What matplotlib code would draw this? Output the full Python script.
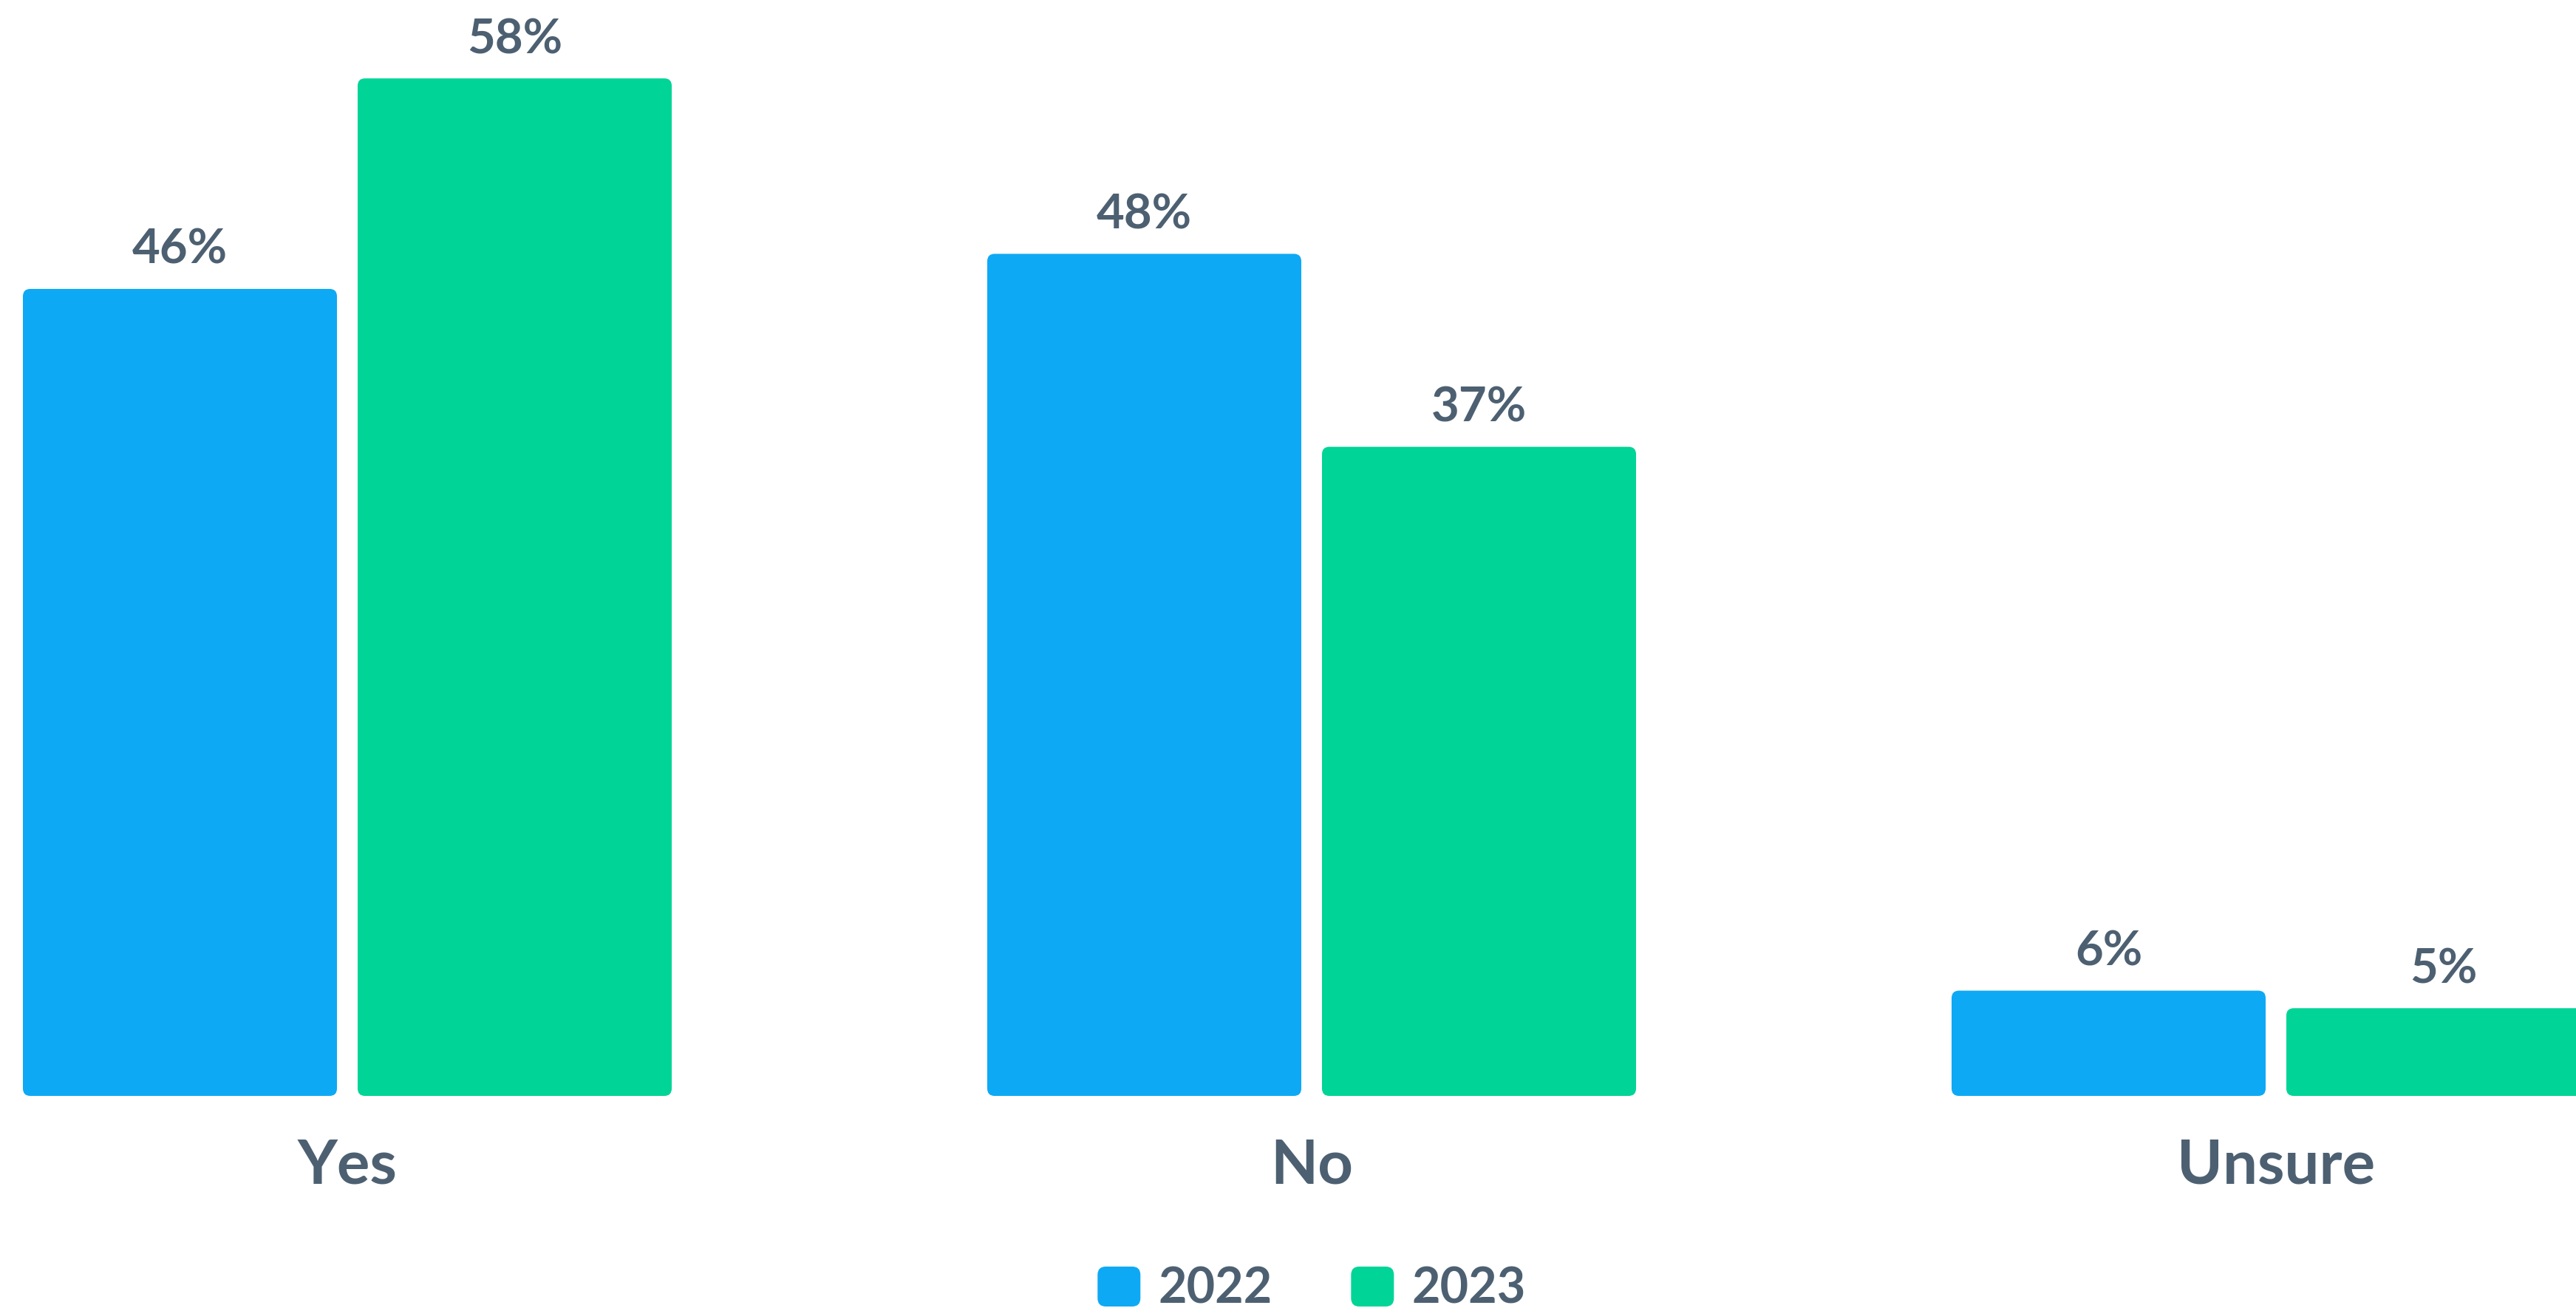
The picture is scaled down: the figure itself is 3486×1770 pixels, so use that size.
import matplotlib
matplotlib.use("Agg")
import matplotlib.pyplot as plt
from matplotlib.patches import FancyBboxPatch, Patch
from matplotlib.legend_handler import HandlerPatch

categories = ["Yes", "No", "Unsure"]
series_names = ["2022", "2023"]
values_2022 = [46, 48, 6]
values_2023 = [58, 37, 5]
colors = ["#0EA9F4", "#00D496"]
text_color = "#4D6072"

plt.rcParams['font.family'] = ['Lato', 'DejaVu Sans']

W, H, DPI = 3486, 1770, 100
fig = plt.figure(figsize=(W / DPI, H / DPI), dpi=DPI)
ax = fig.add_axes([0, 0, 1, 1])

# layout (pixel-derived)
pitch_px = 1305.0
bar_w = 425.0 / pitch_px
offset = 226.5 / pitch_px
px_per_unit = 23.74
ax.set_xlim(-470.0 / pitch_px, (W - 470.0) / pitch_px)
ax.set_ylim(-287.0 / px_per_unit, (H - 287.0) / px_per_unit)

r_x = 10.0 / pitch_px
aspect = (10.0 / px_per_unit) / r_x

for s, vals in enumerate([values_2022, values_2023]):
    off = -offset if s == 0 else offset
    for i, v in enumerate(vals):
        xc = i + off
        p = FancyBboxPatch((xc - bar_w / 2, 0), bar_w, v,
                           boxstyle=f"round,pad=0,rounding_size={r_x}",
                           mutation_aspect=aspect,
                           facecolor=colors[s], edgecolor="none")
        ax.add_patch(p)
        ax.annotate(f"{v}%", xy=(xc, v), xytext=(0, 34 * 72 / DPI),
                    textcoords="offset points", ha="center", va="baseline",
                    fontsize=47, fontweight="bold", color=text_color)

ax.spines['bottom'].set_position(('data', 0))
for sp in ax.spines.values():
    sp.set_visible(False)
ax.set_xticks(range(len(categories)))
ax.set_xticklabels(categories)
ax.tick_params(axis='x', length=0, pad=119 * 72 / DPI, labelsize=60,
               labelcolor=text_color)
for lab in ax.get_xticklabels():
    lab.set_va('baseline')
    lab.set_fontweight('bold')
ax.set_yticks([])
ax.patch.set_alpha(0)


def rounded_handle(legend, orig_handle, xdescent, ydescent, width, height, fontsize):
    return FancyBboxPatch((-xdescent, -ydescent), width, height,
                          boxstyle="round,pad=0,rounding_size=8")


handles = [Patch(facecolor=c, edgecolor="none") for c in colors]
leg = fig.legend(handles, series_names, loc="lower center",
                 bbox_to_anchor=(1775 / W, -6 / H), ncol=2, frameon=False,
                 fontsize=48, handlelength=0.87, handleheight=0.87,
                 handletextpad=0.36, columnspacing=1.6, borderpad=0.0,
                 borderaxespad=0.0,
                 handler_map={Patch: HandlerPatch(patch_func=rounded_handle)})
for t in leg.get_texts():
    t.set_color(text_color)
    t.set_fontweight("bold")

fig.savefig("out.png", dpi=DPI, facecolor="white")
